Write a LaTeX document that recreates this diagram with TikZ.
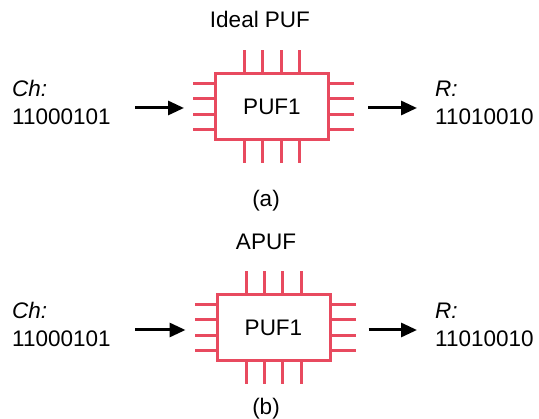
\documentclass[tikz,border=0pt]{standalone}
\usepackage{fontspec}
\setmainfont{Liberation Sans}
\usetikzlibrary{arrows.meta}
\definecolor{chipred}{RGB}{232,74,95}
\begin{document}
\begin{tikzpicture}[x=1pt,y=-1pt,
  chip/.style={draw=chipred, line width=3pt, minimum width=113pt, minimum height=66pt, inner sep=0pt, font=\fontsize{22.5}{25}\selectfont},
  pin/.style={draw=chipred, line width=3pt},
  txt/.style={inner sep=0pt, font=\fontsize{22.5}{25}\selectfont},
  flow/.style={line width=3pt, -{Triangle[length=16pt,width=14pt]}}]
\useasboundingbox (0,0) rectangle (539,419);
% panel (a)
\node[txt, anchor=base] (t1) at (260,28) {Ideal PUF};
\node[chip] (c1) at (272,106.5) {PUF1};
\node[txt, anchor=base west] (ch1) at (12,97) {\itshape Ch:};
\node[txt, anchor=base west] (cv1) at (12,125) {11000101};
\node[txt, anchor=base west] (r1) at (435,97) {\itshape R:};
\node[txt, anchor=base west] (rv1) at (435,125) {11010010};
\node[txt, anchor=base] (la) at (266,207) {(a)};
\coordinate (i1) at (135,108);
\coordinate (o1) at (417,108);
\draw[flow] (i1) -- ([xshift=-30pt]c1.west |- i1);
\draw[flow] ([xshift=38pt]c1.east |- o1) -- (o1);
\foreach \d in {-27.5,-9.2,9.2,27.5}{
  \draw[pin] ([xshift=\d pt]c1.north) -- ++(0,-22);
  \draw[pin] ([xshift=\d pt]c1.south) -- ++(0,22);
}
\foreach \d in {-23.3,-7.7,7.7,23.3}{
  \draw[pin] ([yshift=\d pt]c1.west) -- ++(-21,0);
  \draw[pin] ([yshift=\d pt]c1.east) -- ++(24,0);
}
% panel (b)
\node[txt, anchor=base] (t2) at (266,250) {APUF};
\node[chip] (c2) at (273.5,327.5) {PUF1};
\node[txt, anchor=base west] (ch2) at (12,319) {\itshape Ch:};
\node[txt, anchor=base west] (cv2) at (12,347) {11000101};
\node[txt, anchor=base west] (r2) at (435,319) {\itshape R:};
\node[txt, anchor=base west] (rv2) at (435,347) {11010010};
\node[txt, anchor=base] (lb) at (266,415) {(b)};
\coordinate (i2) at (135,330);
\coordinate (o2) at (417,330);
\draw[flow] (i2) -- ([xshift=-30pt]c2.west |- i2);
\draw[flow] ([xshift=37pt]c2.east |- o2) -- (o2);
\foreach \d in {-27.5,-9.2,9.2,27.5}{
  \draw[pin] ([xshift=\d pt]c2.north) -- ++(0,-22);
  \draw[pin] ([xshift=\d pt]c2.south) -- ++(0,22);
}
\foreach \d in {-23.3,-7.7,7.7,23.3}{
  \draw[pin] ([yshift=\d pt]c2.west) -- ++(-21,0);
  \draw[pin] ([yshift=\d pt]c2.east) -- ++(24,0);
}
\end{tikzpicture}
\end{document}
